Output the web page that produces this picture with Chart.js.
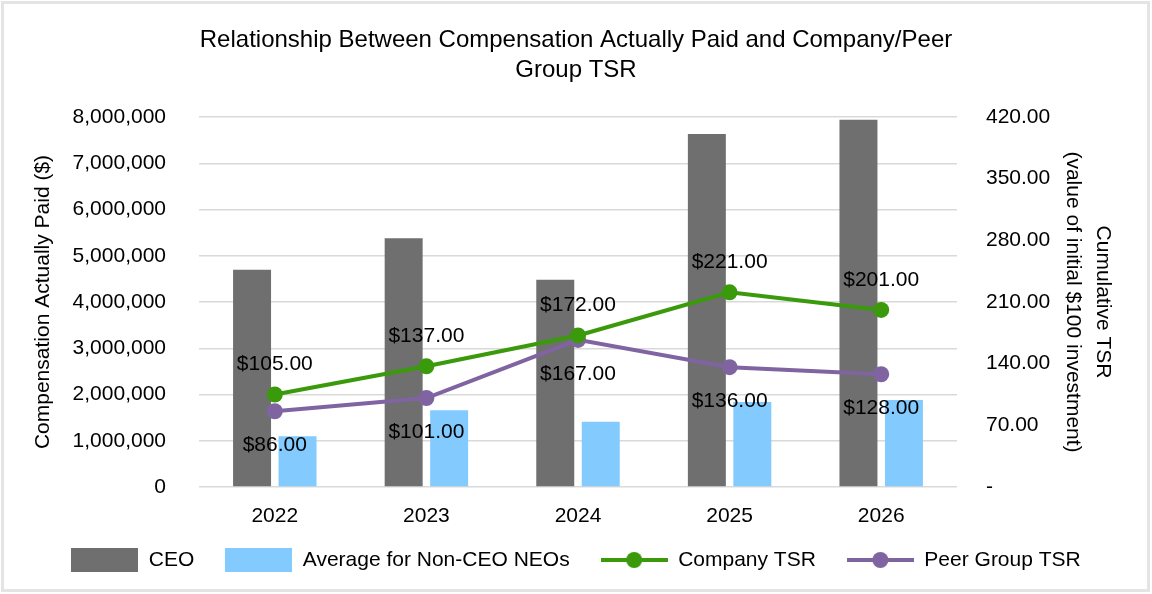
<!DOCTYPE html>
<html>
<head>
<meta charset="utf-8">
<script src="https://cdn.jsdelivr.net/npm/chart.js@4.4.1/dist/chart.umd.min.js"></script>
<style>
  html, body { margin: 0; padding: 0; background: #ffffff; overflow: hidden; }
  #wrap { position: relative; width: 1152px; height: 594px; }
  #frame { position: absolute; left: 1px; top: 1px; width: 1149px; height: 591px; box-sizing: border-box; border: 3px solid #E4E4E4; pointer-events: none; }
  canvas { position: absolute; left: 0; top: 0; }
</style>
</head>
<body>
<div id="wrap">
  <canvas id="c" width="1152" height="594"></canvas>
  <div id="frame"></div>
</div>
<script>
const years = ['2022', '2023', '2024', '2025', '2026'];
const ceoCAP = [4700000, 5380000, 4480000, 7630000, 7940000];
const neoCAP = [1100000, 1660000, 1410000, 1840000, 1880000];
const companyTSR = [105, 137, 172, 221, 201];
const peerTSR = [86, 101, 167, 136, 128];
const leftTicks = { min: 0, max: 8000000, step: 1000000 };
const rightTicks = { min: 0, max: 420, step: 70 };

const FONT = "'Liberation Sans', Arial, Helvetica, sans-serif";
const C_CEO = '#6F6F6F';
const C_NEO = '#83CAFF';
const C_CO = '#3A9A0B';
const C_PEER = '#8064A2';

function boxIcon(color) {
  const c = document.createElement('canvas');
  c.width = 67; c.height = 24;
  const g = c.getContext('2d');
  g.fillStyle = color; g.fillRect(0, 0, 67, 24);
  return c;
}
function lineIcon(color) {
  const c = document.createElement('canvas');
  c.width = 67; c.height = 24;
  const g = c.getContext('2d');
  g.strokeStyle = color; g.lineWidth = 4;
  g.beginPath(); g.moveTo(0, 12); g.lineTo(67, 12); g.stroke();
  g.fillStyle = color; g.beginPath(); g.arc(33.5, 12, 8, 0, Math.PI * 2); g.fill();
  return c;
}
const icons = [boxIcon(C_CEO), boxIcon(C_NEO), lineIcon(C_CO), lineIcon(C_PEER)];

const labelPlugin = {
  id: 'tsrLabels',
  afterLayout(chart) {
    // nudge the legend row up to match the reference spacing
    if (chart.legend) { chart.legend.top -= 11.5; chart.legend.bottom -= 11.5; }
  },
  afterDatasetsDraw(chart) {
    const ctx = chart.ctx;
    ctx.save();
    ctx.font = '21px ' + FONT;
    ctx.fillStyle = '#000';
    ctx.textAlign = 'center';
    ctx.textBaseline = 'middle';
    [[2, -30], [3, 34]].forEach(([di, dy]) => {
      const meta = chart.getDatasetMeta(di);
      const ds = chart.data.datasets[di];
      meta.data.forEach((pt, i) => {
        ctx.fillText('$' + ds.data[i].toFixed(2), pt.x, pt.y + dy);
      });
    });
    ctx.restore();
  }
};

new Chart(document.getElementById('c'), {
  type: 'bar',
  data: {
    labels: years,
    datasets: [
      { type: 'bar', label: 'CEO', data: ceoCAP, backgroundColor: C_CEO, yAxisID: 'y', order: 2,
        categoryPercentage: 0.6, barPercentage: 0.835 },
      { type: 'bar', label: 'Average for Non-CEO NEOs', data: neoCAP, backgroundColor: C_NEO, yAxisID: 'y', order: 2,
        categoryPercentage: 0.6, barPercentage: 0.835 },
      { type: 'line', label: 'Company TSR', data: companyTSR, borderColor: C_CO, backgroundColor: C_CO,
        borderWidth: 4, pointRadius: 8, pointHoverRadius: 8, pointBackgroundColor: C_CO, pointBorderWidth: 0,
        tension: 0, yAxisID: 'y1', order: 1 },
      { type: 'line', label: 'Peer Group TSR', data: peerTSR, borderColor: C_PEER, backgroundColor: C_PEER,
        borderWidth: 4, pointRadius: 8, pointHoverRadius: 8, pointBackgroundColor: C_PEER, pointBorderWidth: 0,
        tension: 0, yAxisID: 'y1', order: 1 }
    ]
  },
  options: {
    responsive: false,
    animation: false,
    layout: { padding: { left: 0, right: 0, top: 0, bottom: 2 } },
    plugins: {
      tooltip: { enabled: false },
      title: {
        display: true,
        text: ['Relationship Between Compensation Actually Paid and Company/Peer', 'Group TSR'],
        color: '#000',
        font: { family: FONT, size: 24, weight: 'normal', lineHeight: 1.25 },
        padding: { top: 25, bottom: 32 }
      },
      legend: {
        position: 'bottom',
        labels: {
          color: '#000',
          font: { family: FONT, size: 21 },
          usePointStyle: true,
          pointStyleWidth: 67,
          padding: 31,
          sort: (a, b) => a.datasetIndex - b.datasetIndex,
          generateLabels(chart) {
            const items = Chart.defaults.plugins.legend.labels.generateLabels(chart);
            items.forEach(it => { it.pointStyle = icons[it.datasetIndex]; it.lineWidth = 0; });
            return items;
          }
        }
      }
    },
    scales: {
      x: {
        grid: { display: false, drawTicks: false },
        border: { display: false },
        ticks: { color: '#000', font: { family: FONT, size: 21 }, padding: 17 },
        afterFit(scale) { scale.height = 43; }
      },
      y: {
        position: 'left',
        min: leftTicks.min, max: leftTicks.max,
        grid: { color: '#D9D9D9', lineWidth: 1.5, drawTicks: false },
        border: { display: false },
        ticks: {
          stepSize: leftTicks.step, color: '#000', font: { family: FONT, size: 21 }, padding: 33,
          callback: v => v.toLocaleString('en-US')
        },
        title: {
          display: true, text: 'Compensation Actually Paid ($)', color: '#000',
          font: { family: FONT, size: 21, lineHeight: 1.2 }, padding: { top: 31, bottom: 0 }
        },
        afterFit(scale) { scale.width = 199; }
      },
      y1: {
        position: 'right',
        min: rightTicks.min, max: rightTicks.max,
        grid: { display: false, drawTicks: false },
        border: { display: false },
        ticks: {
          stepSize: rightTicks.step, color: '#000', font: { family: FONT, size: 21 }, padding: 29,
          callback: v => v === 0 ? '-' : v.toFixed(2)
        },
        title: {
          display: true, text: ['Cumulative TSR', '(value of initial $100 investment)'], color: '#000',
          font: { family: FONT, size: 21, lineHeight: 1.43 }, padding: { top: 34, bottom: 0 }
        },
        afterFit(scale) { scale.width = 195; }
      }
    }
  },
  plugins: [labelPlugin]
});
</script>
</body>
</html>
